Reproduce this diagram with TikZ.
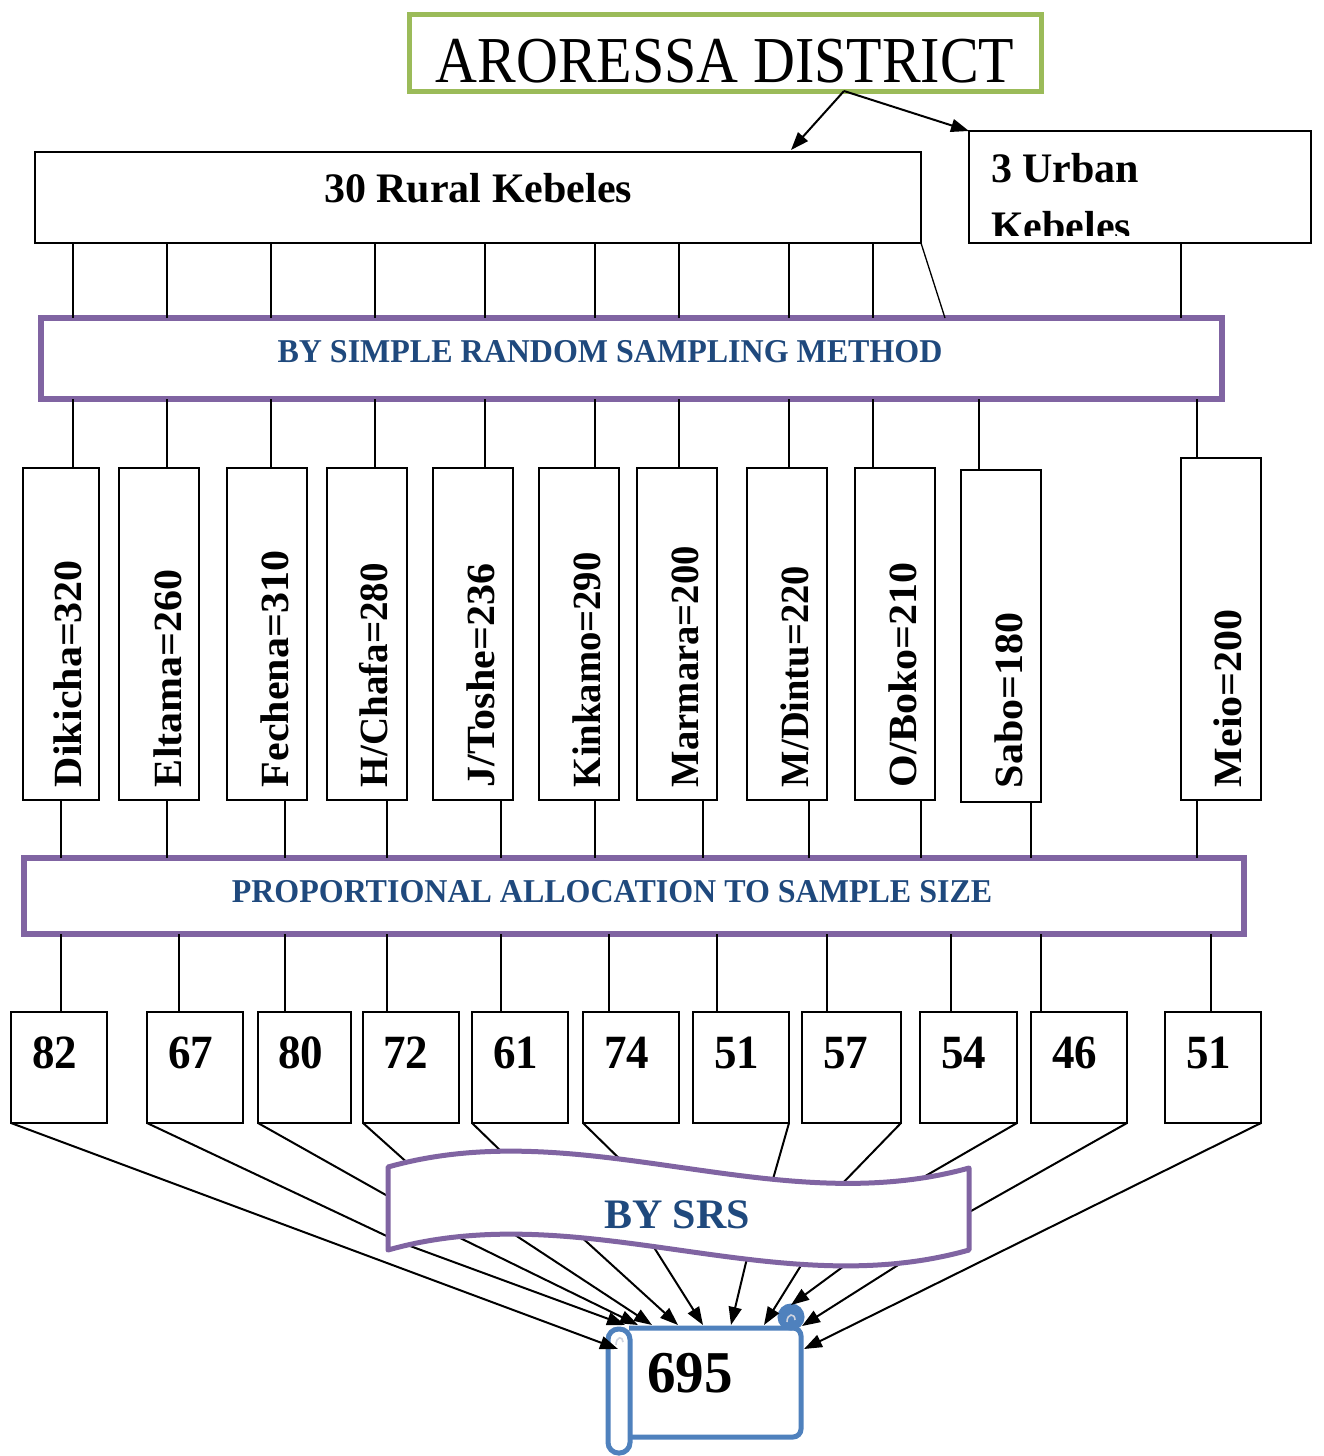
\documentclass[tikz,border=0pt]{standalone}
\usepackage{fontspec}
\usepackage{graphicx}
\setmainfont{Liberation Serif}
\usetikzlibrary{arrows.meta,calc}
\definecolor{tgreen}{RGB}{155,187,89}
\definecolor{tpurple}{RGB}{128,100,162}
\definecolor{tblue}{RGB}{31,73,125}
\definecolor{sblue}{RGB}{79,129,189}
\definecolor{curlc}{RGB}{205,210,222}
\newcommand{\myvs}[2]{\scalebox{1}[#1]{#2}}
\begin{document}
\begin{tikzpicture}[x=1pt,y=-1pt,
  bx/.style={draw=black,line width=1.8pt,fill=white,inner sep=0pt,outer sep=0pt},
  pbox/.style={draw=tpurple,line width=6pt,fill=white,inner sep=0pt,outer sep=0pt},
  conn/.style={draw=black,line width=1.3pt},
  conn2/.style={draw=black,line width=2pt},
  arr/.style={draw=black,line width=2pt,-{Triangle[length=18pt,width=13pt]}},
  big/.style={inner sep=0pt,outer sep=0pt,font=\bfseries\fontsize{42}{50}\selectfont},
  bluetxt/.style={inner sep=0pt,outer sep=0pt,text=tblue,font=\bfseries\fontsize{32}{38}\selectfont},
  rottxt/.style={inner sep=0pt,outer sep=0pt,rotate=90,anchor=base west,font=\bfseries\fontsize{40}{48}\selectfont},
  numtxt/.style={inner sep=0pt,outer sep=0pt,anchor=base west,font=\bfseries\fontsize{45}{50}\selectfont},
  kb/.style={bx,minimum width=80,minimum height=332},
  nb/.style={bx,minimum width=96,minimum height=111}
]
\fill[white] (0,0) rectangle (1323,1456);
\useasboundingbox (0,0) rectangle (1323,1456);

% ---------- top ----------
\node[draw=tgreen,line width=5pt,fill=white,inner sep=0pt,minimum width=632,minimum height=77] (top) at (725.5,53) {};
\node[inner sep=0pt,anchor=base,font=\fontsize{58}{64}\selectfont] (toptxt) at (725,82) {\myvs{1.13}{ARORESSA DISTRICT}};

\node[bx,minimum width=886,minimum height=91] (rural) at (478,197.5) {};
\node[big,anchor=base] (ruraltxt) at (478,202) {30 Rural Kebeles};
\node[bx,minimum width=342,minimum height=112] (urban) at (1140,187) {};
\begin{scope}
  \clip (969,131) rectangle (1311,235);
  \node[big,anchor=base west] (u1) at (991,182) {3 Urban};
  \node[big,anchor=base west] (u2) at (991,240) {Kebeles};
\end{scope}

\coordinate (tsrc) at (844,91);
\draw[arr] (tsrc) -- (791,150);
\draw[arr] (tsrc) -- (urban.north west);

% ---------- SRS box ----------
\node[pbox,minimum width=1181,minimum height=81] (srs) at (631,358.5) {};
\node[bluetxt,anchor=base] (srstxt) at (610,362) {\myvs{1.04}{BY SIMPLE RANDOM SAMPLING METHOD}};

\foreach \xx in {73,167,271,375,485,595,679,789,873}
  \draw[conn] (\xx,0 |- rural.south) -- (\xx,0 |- srs.north);
\draw[conn] (rural.south east) -- (945,0 |- srs.north);
\draw[conn] (1181,0 |- urban.south) -- (1181,0 |- srs.north);

% ---------- kebele boxes ----------
\node[kb,minimum width=76] (k1) at (61,634) {};
\node[kb] (k2) at (159,634) {};
\node[kb] (k3) at (267,634) {};
\node[kb] (k4) at (367,634) {};
\node[kb] (k5) at (473,634) {};
\node[kb] (k6) at (579,634) {};
\node[kb] (k7) at (677,634) {};
\node[kb] (k8) at (787,634) {};
\node[kb] (k9) at (895,634) {};
\node[kb] (k10) at (1001,636) {};
\node[kb,minimum height=342] (k11) at (1221,629) {};

\node[rottxt] (kt1) at ($(k1.south east)+(-18,-13)$) {\scalebox{1.05}[1]{Dikicha=320}};
\node[rottxt] (kt2) at ($(k2.south east)+(-18,-13)$) {\scalebox{1.05}[1]{Eltama=260}};
\node[rottxt] (kt3) at ($(k3.south east)+(-19,-13)$) {\scalebox{1.05}[1]{Fechena=310}};
\node[rottxt] (kt4) at ($(k4.south east)+(-20,-13)$) {\scalebox{0.975}[1]{H/Chafa=280}};
\node[rottxt] (kt5) at ($(k5.south east)+(-19,-13)$) {\scalebox{1.05}[1]{J/Toshe=236}};
\node[rottxt] (kt6) at ($(k6.south east)+(-19,-13)$) {\scalebox{0.966}[1]{Kinkamo=290}};
\node[rottxt] (kt7) at ($(k7.south east)+(-19,-13)$) {\scalebox{0.965}[1]{Marmara=200}};
\node[rottxt] (kt8) at ($(k8.south east)+(-19,-13)$) {\scalebox{0.962}[1]{M/Dintu=220}};
\node[rottxt] (kt9) at ($(k9.south east)+(-19,-13)$) {\scalebox{1.05}[1]{O/Boko=210}};
\node[rottxt] (kt10) at ($(k10.south east)+(-19,-14)$) {\scalebox{1.05}[1]{Sabo=180}};
\node[rottxt] (kt11) at ($(k11.south east)+(-20,-13)$) {\scalebox{1.05}[1]{Meio=200}};

\draw[conn] (73,0 |- srs.south) -- (73,0 |- k1.north);
\draw[conn] (167,0 |- srs.south) -- (167,0 |- k2.north);
\draw[conn] (271,0 |- srs.south) -- (271,0 |- k3.north);
\draw[conn] (375,0 |- srs.south) -- (375,0 |- k4.north);
\draw[conn] (485,0 |- srs.south) -- (485,0 |- k5.north);
\draw[conn] (595,0 |- srs.south) -- (595,0 |- k6.north);
\draw[conn] (679,0 |- srs.south) -- (679,0 |- k7.north);
\draw[conn] (789,0 |- srs.south) -- (789,0 |- k8.north);
\draw[conn] (873,0 |- srs.south) -- (873,0 |- k9.north);
\draw[conn] (979,0 |- srs.south) -- (979,0 |- k10.north);
\draw[conn] (1197,0 |- srs.south) -- (1197,0 |- k11.north);

% ---------- proportional allocation ----------
\node[pbox,minimum width=1220,minimum height=76] (prop) at (634,896) {};
\node[bluetxt,anchor=base] (proptxt) at (612,902) {\myvs{1.04}{PROPORTIONAL ALLOCATION TO SAMPLE SIZE}};

\draw[conn] (61,0 |- k1.south) -- (61,0 |- prop.north);
\draw[conn] (167,0 |- k2.south) -- (167,0 |- prop.north);
\draw[conn] (285,0 |- k3.south) -- (285,0 |- prop.north);
\draw[conn] (387,0 |- k4.south) -- (387,0 |- prop.north);
\draw[conn] (501,0 |- k5.south) -- (501,0 |- prop.north);
\draw[conn] (595,0 |- k6.south) -- (595,0 |- prop.north);
\draw[conn] (703,0 |- k7.south) -- (703,0 |- prop.north);
\draw[conn] (809,0 |- k8.south) -- (809,0 |- prop.north);
\draw[conn] (921,0 |- k9.south) -- (921,0 |- prop.north);
\draw[conn] (1031,0 |- k10.south) -- (1031,0 |- prop.north);
\draw[conn] (1197,0 |- k11.south) -- (1197,0 |- prop.north);

% ---------- number boxes ----------
\node[nb] (n1) at (59,1067.5) {};
\node[nb] (n2) at (195,1067.5) {};
\node[nb,minimum width=93] (n3) at (304.5,1067.5) {};
\node[nb] (n4) at (411,1067.5) {};
\node[nb] (n5) at (520,1067.5) {};
\node[nb] (n6) at (631,1067.5) {};
\node[nb] (n7) at (741,1067.5) {};
\node[nb,minimum width=99] (n8) at (851.5,1067.5) {};
\node[nb,minimum width=97] (n9) at (968.5,1067.5) {};
\node[nb] (n10) at (1079,1067.5) {};
\node[nb] (n11) at (1213,1067.5) {};

\node[numtxt] (v1) at ($(n1.north west)+(21,56)$) {\myvs{1.06}{82}};
\node[numtxt] (v2) at ($(n2.north west)+(21,56)$) {\myvs{1.06}{67}};
\node[numtxt] (v3) at ($(n3.north west)+(20,56)$) {\myvs{1.06}{80}};
\node[numtxt] (v4) at ($(n4.north west)+(20,56)$) {\myvs{1.06}{72}};
\node[numtxt] (v5) at ($(n5.north west)+(21,56)$) {\myvs{1.06}{61}};
\node[numtxt] (v6) at ($(n6.north west)+(21,56)$) {\myvs{1.06}{74}};
\node[numtxt] (v7) at ($(n7.north west)+(21,56)$) {\myvs{1.06}{51}};
\node[numtxt] (v8) at ($(n8.north west)+(21,56)$) {\myvs{1.06}{57}};
\node[numtxt] (v9) at ($(n9.north west)+(21,56)$) {\myvs{1.06}{54}};
\node[numtxt] (v10) at ($(n10.north west)+(21,56)$) {\myvs{1.06}{46}};
\node[numtxt] (v11) at ($(n11.north west)+(21,56)$) {\myvs{1.06}{51}};

\draw[conn] (61,0 |- prop.south) -- (61,0 |- n1.north);
\draw[conn] (179,0 |- prop.south) -- (179,0 |- n2.north);
\draw[conn] (285,0 |- prop.south) -- (285,0 |- n3.north);
\draw[conn] (387,0 |- prop.south) -- (387,0 |- n4.north);
\draw[conn] (501,0 |- prop.south) -- (501,0 |- n5.north);
\draw[conn] (609,0 |- prop.south) -- (609,0 |- n6.north);
\draw[conn] (717,0 |- prop.south) -- (717,0 |- n7.north);
\draw[conn] (827,0 |- prop.south) -- (827,0 |- n8.north);
\draw[conn] (951,0 |- prop.south) -- (951,0 |- n9.north);
\draw[conn] (1041,0 |- prop.south) -- (1041,0 |- n10.north);
\draw[conn] (1211,0 |- prop.south) -- (1211,0 |- n11.north);

% ---------- scroll (695) ----------
\begin{scope}[draw=sblue,line width=5pt]
  \draw[fill=white,rounded corners=8pt] (629,1328) -- (801,1328) -- (801,1437) -- (629,1437);
  \draw[fill=white,rounded corners=10.5pt] (608,1329) rectangle (630,1453);
  \fill[sblue] (791,1317) circle (11pt);
  \draw (791,1317) circle (11pt);
  \draw[curlc,line width=1.6pt] (787,1322) .. controls (787,1313) and (795,1313) .. (795,1320);
  \draw[curlc,line width=1.6pt] (616,1345) .. controls (616,1336) and (623,1336) .. (623,1342);
\end{scope}
\node[inner sep=0pt,anchor=base west,font=\bfseries\fontsize{57}{62}\selectfont] (total) at (647,1392) {\myvs{1.04}{695}};

% ---------- arrow targets, entry and exit points ----------
\coordinate (t1) at (618,1349);
\coordinate (t2) at (625,1325);
\coordinate (t3) at (638,1325);
\coordinate (t4) at (652,1325);
\coordinate (t5) at (678,1325);
\coordinate (t6) at (703,1325);
\coordinate (t7) at (731,1325);
\coordinate (t8) at (764,1325);
\coordinate (t9) at (791,1305);
\coordinate (t10) at (802,1326);
\coordinate (t11) at (804,1349);

\coordinate (e2) at (393,1239);
\coordinate (e3) at (393,1199);
\coordinate (e4) at (411,1166);
\coordinate (e5) at (505,1155);
\coordinate (e6) at (631,1170);
\coordinate (e7) at (771,1186);
\coordinate (e8) at (839,1187);
\coordinate (e9) at (915,1182);
\coordinate (e10) at (964,1215);

\coordinate (x2) at (402,1243);
\coordinate (x3) at (454,1235);
\coordinate (x4) at (509,1231);
\coordinate (x5) at (578,1234);
\coordinate (x6) at (650,1241);
\coordinate (x7) at (748,1254);
\coordinate (x8) at (805,1259);
\coordinate (x9) at (848,1263);
\coordinate (x10) at (906,1260);

\draw[arr] (n1.south west) -- (t1);
\draw[arr] (n11.south east) -- (t11);
\draw[conn2] (n2.south west) -- (e2);
\draw[conn2] (n3.south west) -- (e3);
\draw[conn2] (n4.south west) -- (e4);
\draw[conn2] (n5.south west) -- (e5);
\draw[conn2] (n6.south west) -- (e6);
\draw[conn2] (n7.south east) -- (e7);
\draw[conn2] (n8.south east) -- (e8);
\draw[conn2] (n9.south east) -- (e9);
\draw[conn2] (n10.south east) -- (e10);
\draw[arr] (x2) -- (t2);
\draw[arr] (x3) -- (t3);
\draw[arr] (x4) -- (t4);
\draw[arr] (x5) -- (t5);
\draw[arr] (x6) -- (t6);
\draw[arr] (x7) -- (t7);
\draw[arr] (x8) -- (t8);
\draw[arr] (x9) -- (t9);
\draw[arr] (x10) -- (t10);

% ---------- BY SRS wave banner ----------
\draw[tpurple,line width=5pt,fill=white,line join=round]
  (388,1167) .. controls (582,1112) and (775,1222) .. (969,1168)
  -- (969,1250) .. controls (775,1305) and (582,1195) .. (388,1250) -- cycle;
\node[inner sep=0pt,anchor=base,text=tblue,font=\bfseries\fontsize{42}{48}\selectfont] (bysrs) at (677,1228) {BY SRS};
\end{tikzpicture}
\end{document}
